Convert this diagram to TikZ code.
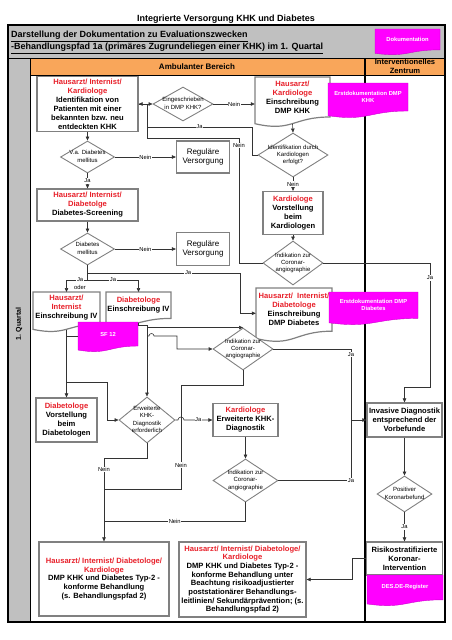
\documentclass[tikz,border=0pt]{standalone}
\usepackage{fontspec}
\setmainfont{Liberation Sans}
\usepackage{xcolor}
\usetikzlibrary{shapes.geometric, arrows.meta}

\definecolor{hdgray}{HTML}{C0C0C0}
\definecolor{bandorange}{HTML}{F9A65A}
\definecolor{boxgray}{HTML}{808080}
\definecolor{txtred}{HTML}{E8202A}
\definecolor{docmag}{HTML}{FF00FF}

\newcommand{\redt}[1]{\textcolor{txtred}{#1}}
\newcommand{\dtxt}[1]{\makebox[0pt]{\begin{tabular}{@{}c@{}}#1\end{tabular}}}
% Dokument mit Wellenkante: Name, x1, y1, x2, y2, Stil, Text
\newcommand{\docu}[7]{%
  \pgfmathsetmacro{\docw}{#4-#2}%
  \pgfmathsetmacro{\doch}{0.93*(#5-#3)}%
  \filldraw[#6] (#2,#3) -- (#4,#3) -- (#4,{#3+0.8*(#5-#3)})
    .. controls ({(#2+#4)/2},{#3+0.8*(#5-#3)}) and ({(#2+#4)/2},{#3+1.107*(#5-#3)}) .. (#2,{#3+0.934*(#5-#3)}) -- cycle;
  \node[inner sep=0pt,minimum width=\docw pt,minimum height=\doch pt,anchor=north] (#1) at ({(#2+#4)/2},#3) {};
  \node[#6 text] (#1t) at ({(#2+#4)/2},{#3+0.4*(#5-#3)}) {#7};
}

\begin{document}
\begin{tikzpicture}[x=1pt,y=-1pt,>={Triangle[length=4pt,width=3.5pt]},
  box/.style={draw=boxgray,line width=1.2pt,fill=white,align=center,inner sep=0.5pt,font=\fontsize{7.6}{9}\selectfont\bfseries},
  reg/.style={box,font=\fontsize{8}{9.3}\selectfont},
  dec/.style={diamond,draw=boxgray,line width=0.9pt,fill=white,inner sep=0pt,aspect=1,font=\fontsize{6}{7.2}\selectfont},
  doc/.style={fill=white,draw=boxgray,line width=1.2pt},
  doc text/.style={align=center,inner sep=0pt,font=\fontsize{7.6}{9}\selectfont\bfseries},
  mag/.style={fill=docmag,draw=docmag!80!black,line width=0.4pt},
  mag text/.style={align=center,inner sep=0pt,text=white,font=\fontsize{5.8}{7}\selectfont\bfseries},
  lab/.style={fill=white,inner sep=0.6pt,font=\fontsize{5.8}{6}\selectfont},
  line/.style={draw=black!80,line width=0.6pt},
  arr/.style={line,->}]
\useasboundingbox (0,0) rectangle (452,640);

% Rahmen
\fill[hdgray] (8,25) rectangle (445,58);
\fill[hdgray] (8,58) rectangle (30,622);
\fill[bandorange] (30,58) rectangle (445,75);
\draw[line width=0.8pt] (8,58) -- (445,58);
\draw[line width=0.8pt] (30,58) -- (30,622);
\draw[line width=0.6pt] (30,75) -- (445,75);
\draw[line width=1.2pt] (365,58) -- (365,622);
\draw[line width=1.2pt] (8,25) rectangle (445,622);

\node[font=\fontsize{9}{11}\selectfont\bfseries] (title) at (226,19) {Integrierte Versorgung KHK und Diabetes};
\node[anchor=base west,inner sep=0pt,font=\fontsize{9}{11}\selectfont\bfseries] (hd1) at (11,37.5) {\underline{Darstellung der Dokumentation zu Evaluationszwecken}};
\node[anchor=base west,inner sep=0pt,font=\fontsize{9}{11}\selectfont\bfseries] (hd2) at (11,49.5) {\underline{-Behandlungspfad 1a (primäres Zugrundeliegen einer KHK) im 1. Quartal}};
\docu{DOK}{375}{29}{440}{55}{mag}{Dokumentation}
\node[font=\fontsize{8}{9}\selectfont\bfseries] (amb) at (197,66.5) {Ambulanter Bereich};
\node[align=center,inner sep=0pt,font=\fontsize{7.6}{8.6}\selectfont\bfseries] (izt) at (405,66.5) {Interventionelles\\Zentrum};
\node[rotate=90,font=\fontsize{7}{8}\selectfont\bfseries] (quartal) at (19,324) {1. Quartal};

% Knoten
\node[box,minimum width=101pt,minimum height=55pt] (A) at (87.5,104) {\redt{Hausarzt/ Internist/}\\\redt{Kardiologe}\\Identifikation von\\Patienten mit einer\\bekannten bzw. neu\\entdeckten KHK};
\node[dec,minimum width=60pt,minimum height=34pt] (D1) at (183,104) {\dtxt{Eingeschrieben\\in DMP KHK?}};
\docu{E}{255}{77}{330}{127}{doc}{\redt{Hausarzt/}\\\redt{Kardiologe}\\Einschreibung\\DMP KHK}
\docu{EK}{328}{83}{408}{118}{mag}{Erstdokumentation DMP\\KHK}
\node[dec,minimum width=70pt,minimum height=44pt] (D2) at (293,155) {\dtxt{Identifikation durch\\Kardiologen\\erfolgt?}};
\node[box,minimum width=60pt,minimum height=43pt] (K) at (293,213) {\redt{Kardiologe}\\Vorstellung\\beim\\Kardiologen};
\node[dec,minimum width=60pt,minimum height=44pt] (D3) at (293,263) {\dtxt{Indikation zur\\Coronar-\\angiographie}};

\node[dec,minimum width=54pt,minimum height=32pt] (D4) at (87.5,157) {\dtxt{V.a. Diabetes\\mellitus}};
\node[reg,minimum width=53pt,minimum height=32pt] (R1) at (203,157) {Reguläre\\Versorgung};
\node[box,minimum width=101pt,minimum height=32pt] (B) at (87.5,205) {\redt{Hausarzt/ Internist/}\\\redt{Diabetolge}\\Diabetes-Screening};
\node[dec,minimum width=54pt,minimum height=32pt] (D5) at (87.5,249) {\dtxt{Diabetes\\mellitus}};
\node[reg,minimum width=53pt,minimum height=33pt] (R2) at (203,249) {Reguläre\\Versorgung};

\docu{H1}{33}{292}{100}{332}{doc}{\redt{Hausarzt/}\\\redt{Internist}\\Einschreibung IV}
\docu{H2}{106}{292}{171}{325}{doc}{\redt{Diabetologe}\\Einschreibung IV}
\docu{SF}{78}{322}{138}{352}{mag}{SF 12}
\docu{F}{256}{288}{332}{342}{doc}{\redt{Hausarzt/\ \ Internist/}\\\redt{Diabetologe}\\Einschreibung\\DMP Diabetes}
\docu{ED}{329}{292}{418}{325}{mag}{Erstdokumentation DMP\\Diabetes}

\node[dec,minimum width=60pt,minimum height=42pt] (D7) at (243,349) {\dtxt{Indikation zur\\Coronar-\\angiographie}};
\node[box,minimum width=61pt,minimum height=44pt] (DV) at (66.5,420) {\redt{Diabetologe}\\Vorstellung\\beim\\Diabetologen};
\node[dec,minimum width=56pt,minimum height=46pt] (D6) at (147,420) {\dtxt{Erweiterte\\KHK-\\Diagnostik\\erforderlich}};
\node[box,minimum width=65pt,minimum height=33pt] (KE) at (245.5,420) {\redt{Kardiologe}\\Erweiterte KHK-\\Diagnostik};
\node[dec,minimum width=65pt,minimum height=43pt] (D8) at (245.5,480.5) {\dtxt{Indikation zur\\Coronar-\\angiographie}};

\node[box,minimum width=75pt,minimum height=34pt] (IV) at (404.5,420) {Invasive Diagnostik\\entsprechend der\\Vorbefunde};
\node[dec,minimum width=55pt,minimum height=36pt] (D9) at (404.5,494) {\dtxt{Positiver\\Koronarbefund}};
\node[box,minimum width=76pt,minimum height=33pt] (RK) at (404.5,558.5) {Risikostratifizierte\\Koronar-\\Intervention};
\docu{DES}{367}{575}{443}{606}{mag}{DES.DE-Register}

\node[box,font=\fontsize{7.6}{8.7}\selectfont\bfseries,minimum width=130pt,minimum height=74pt] (BA) at (104,579) {\redt{Hausarzt/ Internist/ Diabetologe/}\\\redt{Kardiologe}\\DMP KHK und Diabetes Typ-2 -\\konforme Behandlung\\(s. Behandlungspfad 2)};
\node[box,font=\fontsize{7.6}{8.7}\selectfont\bfseries,minimum width=127pt,minimum height=75pt] (BB) at (242.5,579.5) {\redt{Hausarzt/ Internist/ Diabetologe/}\\\redt{Kardiologe}\\DMP KHK und Diabetes Typ-2 -\\konforme Behandlung unter\\Beachtung risikoadjustierter\\poststationärer Behandlungs-\\leitlinien/ Sekundärprävention; (s.\\Behandlungspfad 2)};

% Verbindungen
\draw[arr] (A.east) -- (D1.west);
\draw[arr] (D1.east) -- node[lab] (n1) {Nein} (D1.east -| E.west);
\draw[arr] (E.south) -- (D2.north);
\draw[arr] (D2.south) -- node[lab] (n2) {Nein} (K.north);
\draw[arr] (D2.west) -- (252,155) -- (252,127) -- node[lab] (n3) {Ja} (147,127) -- (147,104) -- (A.east);
\draw[arr] (K.south) -- (D3.north);
\draw[line] (D3.west) -- (239,263) -- node[lab,pos=.94] (n4) {Nein} (239,138) -- (147,138) -- (147,127);
\draw[arr] (D3.east) -- (430,263) -- node[lab,pos=.12] (n5) {Ja} (430,387) -| (IV.north);

\draw[arr] (A.south) -- (D4.north);
\draw[arr] (D4.east) -- node[lab] (n6) {Nein} (R1.west);
\draw[arr] (D4.south) -- node[lab] (n7) {Ja} (B.north);
\draw[arr] (B.south) -- (D5.north);
\draw[arr] (D5.east) -- node[lab] (n8) {Nein} (R2.west);
\draw[line] (D5.south) -- (87.5,280);
\draw[arr] (87.5,280) -- node[lab,pos=.35] (n9) {Ja} (66.5,280) -- (H1.north);
\draw[arr] (87.5,280) -- node[lab] (n10) {Ja} (138.5,280) -- (H2.north);
\node[lab,fill=none] (oder) at (80,287) {oder};
\draw[arr] (87.5,273) -- node[lab,pos=.66] (n11) {Ja} (240,273) |- (F.west);

\draw[arr] (H1.south) -- (DV.north);
\draw[line] (H1.south |- SF.west) -- (SF.west);
\draw[arr] (66.5,382) -- (107,382) |- (D6.west);
\draw[arr] (H2.south) |- (147,325) |- (D7.north);
\draw[arr] (147,328) -- (D6.north);
\draw[arr] (147,336) -- (149,336) arc (180:360:2.5) -- (177,336) |- (D7.west);
\draw[arr] (D6.east) -- (178,420) arc (180:360:3) -- node[lab] (n12) {Ja} (KE.west);
\draw[line] (D7.south) |- (181,385) -- node[lab,pos=.77] (n13) {Nein} (181,489) -- (104,489);
\draw[arr] (D6.south) |- (104,458) -- node[lab,pos=.14] (n14) {Nein} (BA.north);
\draw[arr] (KE.south) -- (D8.north);
\draw[line] (D8.south) |- node[lab,pos=.75] (n15) {Nein} (104,521);
\draw[arr] (D7.east) -| node[lab,pos=.54] (n16) {Ja} (351,420) -- (IV.west);
\draw[line] (D8.east) -| node[lab,pos=.5] (n17) {Ja} (351,420);
\draw[arr] (IV.south) -- (D9.north);
\draw[arr] (D9.south) -- node[lab] (n18) {Ja} (RK.north);
\draw[arr] (RK.west) -- (352,558.5) |- (BB.east);
\end{tikzpicture}
\end{document}
